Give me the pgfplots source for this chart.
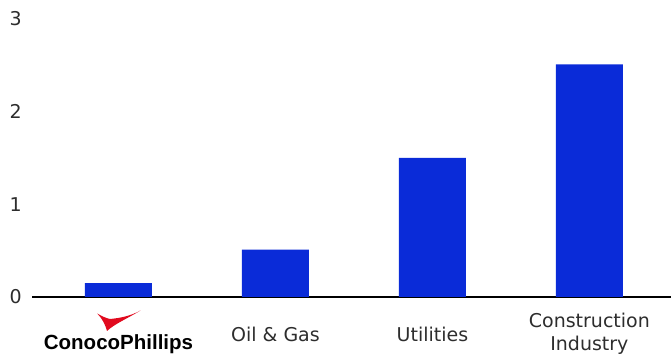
\documentclass[border=0pt]{standalone}
\usepackage{fontspec}
\setmainfont{DejaVu Sans}
\newfontfamily\logofont{Liberation Sans}
\usepackage{pgfplots}
\pgfplotsset{compat=1.18}

\definecolor{barblue}{RGB}{10,43,216}
\definecolor{conored}{RGB}{225,10,30}
\definecolor{labelgray}{RGB}{45,45,45}

\begin{document}
\begin{tikzpicture}
\begin{axis}[
  scale only axis,
  width=639pt, height=278pt,
  xmin=-0.551, xmax=3.52,
  ymin=0, ymax=3,
  ybar, bar width=67pt,
  clip=false,
  axis x line*=bottom,
  axis y line*=left,
  x axis line style={-, black, line width=2pt},
  y axis line style={draw=none},
  major tick length=0pt,
  tick style={draw=none},
  xtick={0,1,2,3},
  xticklabels={{}, Oil \& Gas, Utilities, {Construction\\Industry}},
  ytick={0,1,2,3},
  /pgf/number format/assume math mode=true,
  tick label style={font=\fontsize{19}{23.3}\selectfont, text=labelgray},
  xticklabel style={anchor=center, align=center, yshift=-37pt},
  yticklabel style={anchor=east, inner sep=0pt, xshift=-10pt},
]
\addplot[fill=barblue, draw=none] coordinates {
  (0,0.15)
  (1,0.51)
  (2,1.50)
  (3,2.51)
};
\coordinate (logo) at (axis cs:0,0);
\node[font=\logofont\bfseries\fontsize{20.5}{21}\selectfont, anchor=base, inner sep=0pt]
  at ([yshift=-52.8pt]axis cs:0,0) {ConocoPhillips};
\end{axis}
% red swoosh above the company name
\begin{scope}[shift={(logo)}, x=1pt, y=1pt]
\fill[conored] (-21.2,-16.5) .. controls (-16,-22) and (-13,-28) .. (-11.5,-34)
  .. controls (-4,-27) and (8,-22) .. (22,-13.5)
  .. controls (12,-19) and (2,-21) .. (-8.5,-22)
  .. controls (-13,-21) and (-17,-19) .. cycle;
\end{scope}
\pgfresetboundingbox
\path ([shift={(-32pt,-58pt)}]current axis.south west)
  rectangle ([shift={(0pt,19pt)}]current axis.north east);
\end{tikzpicture}
\end{document}
